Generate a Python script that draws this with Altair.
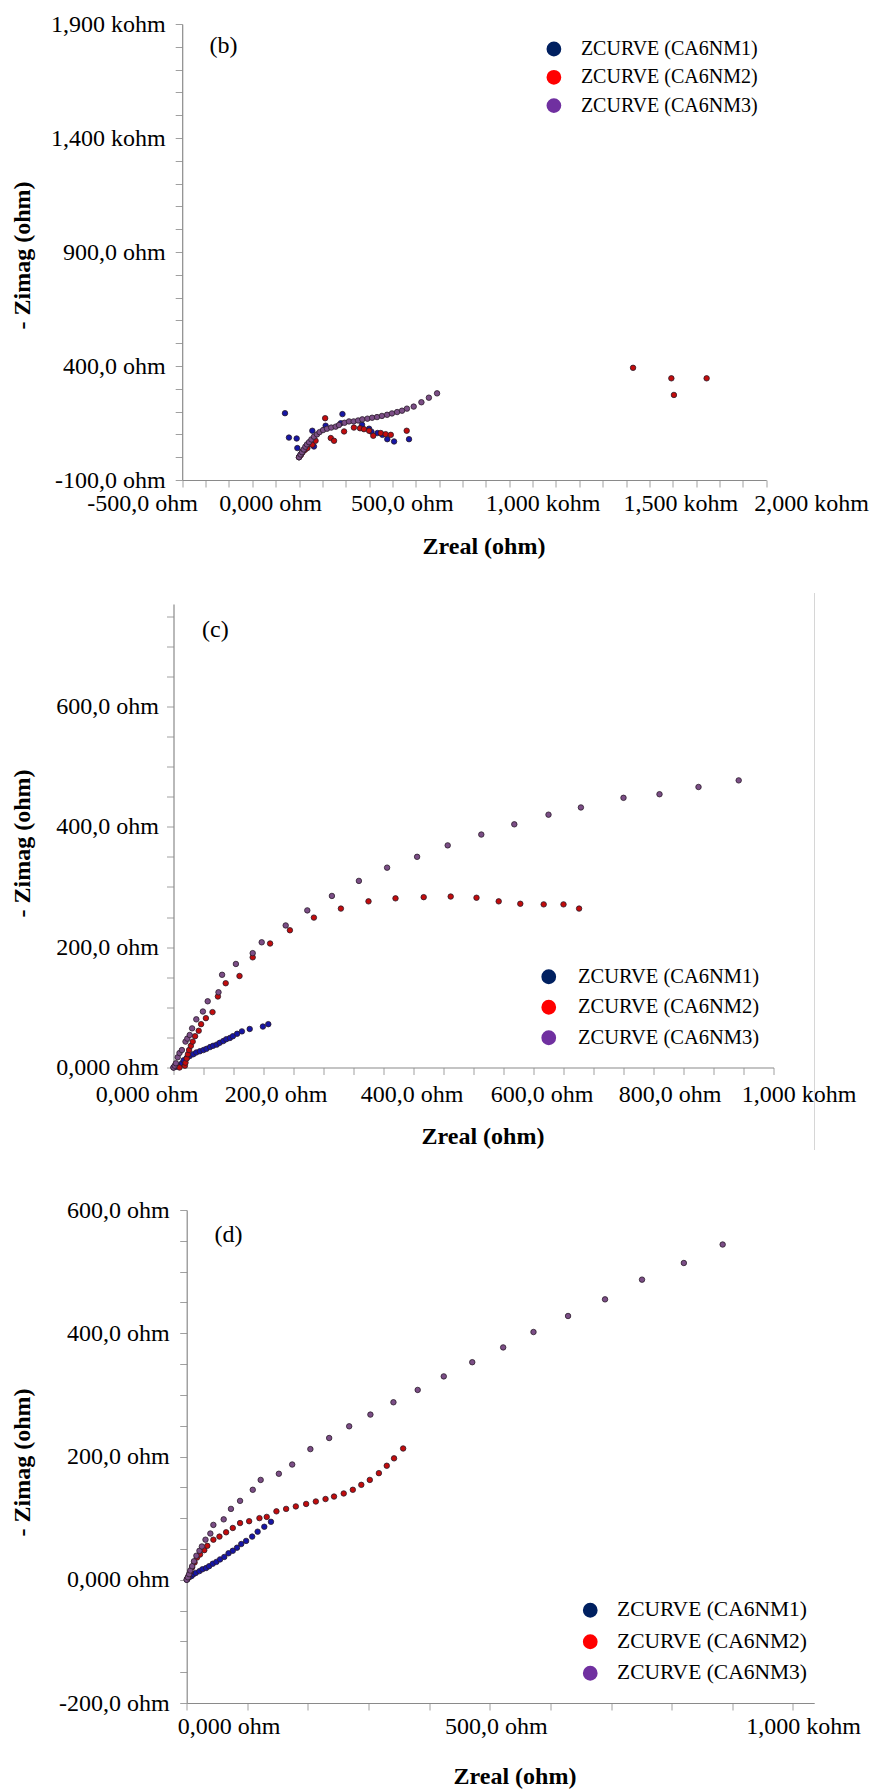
import altair as alt
import pandas as pd

SERIES = ["ZCURVE (CA6NM1)", "ZCURVE (CA6NM2)", "ZCURVE (CA6NM3)"]
POINT_COLORS = ["#1616a6", "#c20c0c", "#7b4e86"]
LEGEND_COLORS = ["#002060", "#ff0000", "#7030a0"]
FONT = "Liberation Serif, Times New Roman, serif"

# ---------------- panel (b) data (ohm) ----------------
b1_x = [-60, -43, -10, -7, 0, 6, 15, 57, 64, 114, 179, 186, 270, 300, 310, 336, 357, 378, 407, 471]
b1_y = [193, 86, 82, 40, 0, 10, 25, 116, 47, 138, 149, 189, 142, 125, 112, 106, 98, 79, 69, 79]
b2_x = [0, 8, 15, 25, 36, 57, 71, 112, 136, 150, 193, 235, 261, 278, 300, 318, 350, 371, 393, 461,
        1430, 1594, 1745, 1605]
b2_y = [0, 10, 21, 32, 40, 55, 72, 171, 84, 72, 113, 130, 127, 123, 116, 94, 106, 101, 98, 116,
        392, 346, 346, 273]
b3_x = [0, 7, 13, 20, 27, 34, 43, 53, 64, 77, 88, 103, 120, 138, 157, 171, 195, 214, 234, 253, 271,
        293, 313, 334, 355, 377, 398, 420, 441, 462, 491, 524, 556, 591]
b3_y = [0, 12, 22, 34, 46, 56, 66, 78, 90, 100, 110, 119, 125, 130, 134, 141, 151, 157, 157, 161, 166,
        169, 173, 176, 181, 186, 192, 198, 204, 213, 222, 241, 261, 280]

# ---------------- panel (c) data (ohm) ----------------
c1_x = [0, 3, 6, 9, 14, 17, 22, 27, 33, 38, 44, 50, 55, 61, 66, 72, 77, 83, 88, 94, 99, 106, 114, 127, 149, 158]
c1_y = [0, 1, 2, 3, 7, 12, 16, 19, 22, 25, 27, 29, 31, 34, 36, 38, 41, 44, 47, 49, 52, 56, 60, 64, 68, 72]
c2_x = [10, 19, 20, 22, 24, 26, 29, 32, 36, 42, 46, 54, 65, 74, 87, 110, 132, 161, 194, 234, 279, 325,
        370, 417, 462, 505, 542, 578, 617, 650, 676]
c2_y = [0, 3, 8, 15, 22, 29, 36, 43, 52, 61, 72, 82, 92, 118, 140, 152, 183, 206, 228, 249, 264, 276,
        281, 283, 284, 282, 276, 272, 271, 271, 264]
c3_x = [0, 2, 4, 7, 10, 14, 20, 23, 27, 31, 38, 49, 57, 75, 81, 104, 132, 147, 187, 223, 264, 309,
        356, 406, 457, 513, 568, 625, 679, 750, 810, 875, 942]
c3_y = [0, 3, 7, 17, 24, 29, 43, 48, 54, 65, 80, 93, 110, 125, 154, 172, 190, 208, 236, 261, 285, 310,
        332, 350, 369, 387, 404, 420, 432, 448, 454, 466, 477]

# ---------------- panel (d) data (ohm) ----------------
d1_x = [0, 1, 4, 8, 11, 15, 21, 26, 32, 37, 43, 49, 55, 62, 69, 76, 83, 90, 98, 108, 117, 128, 139]
d1_y = [0, 1, 4, 6, 9, 11, 14, 17, 19, 22, 26, 29, 33, 37, 43, 47, 52, 58, 63, 70, 78, 86, 94]
d2_x = [1, 3, 6, 9, 13, 17, 22, 29, 34, 44, 54, 65, 76, 88, 103, 120, 132, 148, 164, 180, 197, 213,
        229, 243, 259, 274, 288, 302, 317, 330, 342, 357]
d2_y = [2, 6, 13, 20, 28, 36, 41, 48, 55, 65, 70, 77, 84, 92, 95, 100, 102, 111, 115, 119, 123, 127,
        131, 135, 140, 146, 154, 162, 173, 185, 197, 213]
d3_x = [0, 2, 4, 6, 9, 12, 16, 21, 25, 31, 39, 44, 61, 73, 88, 109, 122, 152, 174, 204, 235, 268, 303,
        341, 381, 424, 471, 522, 572, 629, 690, 751, 820, 884]
d3_y = [0, 4, 9, 15, 22, 30, 39, 47, 54, 65, 75, 89, 98, 115, 128, 146, 162, 172, 187, 212, 230, 249,
        268, 288, 308, 330, 353, 377, 402, 428, 455, 487, 514, 544]

# ---------------- axis ticks / labels ----------------
b_x_major = [-500, 0, 500, 1000, 1500, 2000]
b_x_labels = ["-500,0 ohm", "0,000 ohm", "500,0 ohm", "1,000 kohm", "1,500 kohm", "2,000 kohm"]
b_y_major = [-100, 400, 900, 1400, 1900]
b_y_labels = ["-100,0 ohm", "400,0 ohm", "900,0 ohm", "1,400 kohm", "1,900 kohm"]

c_x_major = [0, 200, 400, 600, 800, 1000]
c_x_labels = ["0,000 ohm", "200,0 ohm", "400,0 ohm", "600,0 ohm", "800,0 ohm", "1,000 kohm"]
c_y_major = [0, 200, 400, 600]
c_y_labels = ["0,000 ohm", "200,0 ohm", "400,0 ohm", "600,0 ohm"]

d_x_major = [0, 500, 1000]
d_x_labels = ["0,000 ohm", "500,0 ohm", "1,000 kohm"]
d_y_major = [-200, 0, 200, 400, 600]
d_y_labels = ["-200,0 ohm", "0,000 ohm", "200,0 ohm", "400,0 ohm", "600,0 ohm"]


def make_df(xs_list, ys_list):
    rows = []
    for name, xs, ys in zip(SERIES, xs_list, ys_list):
        for x, y in zip(xs, ys):
            rows.append({"series": name, "entry": name, "zreal": x, "zimag": y})
    return pd.DataFrame(rows)


def label_expr(vals, labels):
    parts = [f"datum.value == {v} ? '{t}'" for v, t in zip(vals, labels)]
    return " : ".join(parts) + " : ''"


def offset_expr(vals, offs):
    parts = [f"datum.value == {v} ? {o}" for v, o in zip(vals, offs)]
    return " : ".join(parts) + " : 0"


def panel(df, p):
    x_axis = alt.Axis(
        values=p["xticks"], labelExpr=label_expr(p["xmaj"], p["xlab"]),
        labelOffset={"expr": offset_expr(p["xmaj"], p["xoff"])},
        labelFlush=False, labelOverlap=False, labelPadding=p["xpad"],
        labelFont=FONT, titleFont=FONT,
        title="Zreal (ohm)", titleX=p["xtx"], titleY=p["xty"],
        titleBaseline="alphabetic", titleAnchor="middle",
    )
    y_axis = alt.Axis(
        values=p["yticks"], labelExpr=label_expr(p["ymaj"], p["ylab"]),
        labelOverlap=False, labelPadding=p["ypad"], labelBaseline="middle",
        labelFont=FONT, titleFont=FONT,
        offset=p["yoff"], title="- Zimag (ohm)", titleX=p["ytx"], titleY=p["yty"],
        titleAngle=270, titleBaseline="alphabetic", titleAnchor="middle",
    )
    xs = alt.Scale(domain=p["xdom"], range=p["xrange"], nice=False, zero=False)
    ys = alt.Scale(domain=p["ydom"], range=p["yrange"], nice=False, zero=False)
    xenc = alt.X("zreal:Q", scale=xs, axis=x_axis)
    yenc = alt.Y("zimag:Q", scale=ys, axis=y_axis)
    # legend carrier: identical points, smaller, fully hidden under the visible points
    carrier = alt.Chart(df).mark_circle(size=14, opacity=1).encode(
        x=xenc, y=yenc,
        color=alt.Color(
            "entry:N", scale=alt.Scale(domain=SERIES, range=LEGEND_COLORS),
            legend=alt.Legend(
                orient="none", legendX=p["lx"], legendY=p["ly"], title=None,
                symbolType="circle", symbolSize=218, symbolStrokeWidth=0, symbolOpacity=1,
                labelFont=FONT, labelFontSize=p["lfs"], labelColor="black",
                labelOffset=p["loff"], rowPadding=p["lrow"], padding=0, labelLimit=400,
            ),
        ),
    )
    pts = alt.Chart(df).mark_circle(size=30, opacity=1, stroke="#2a1a2a", strokeWidth=0.8).encode(
        x=xenc, y=yenc,
        fill=alt.Fill("series:N", scale=alt.Scale(domain=SERIES, range=POINT_COLORS), legend=None),
    )
    tag = alt.Chart(pd.DataFrame({"tag": [p["tag"]]})).mark_text(
        font=FONT, fontSize=24, color="black", align="left", baseline="alphabetic"
    ).encode(text="tag:N", x=alt.value(p["tagx"]), y=alt.value(p["tagy"]))
    layers = [carrier, pts, tag]
    if p.get("border"):
        frame = alt.Chart(pd.DataFrame({"k": [0]})).mark_rule(color="#d6d6d6", strokeWidth=1).encode(
            x=alt.value(p["border"][0]), y=alt.value(p["border"][1]), y2=alt.value(p["border"][2])
        )
        layers.append(frame)
    return alt.layer(*layers).properties(width=p["w"], height=p["h"])


df_b = make_df([b1_x, b2_x, b3_x], [b1_y, b2_y, b3_y])
df_c = make_df([c1_x, c2_x, c3_x], [c1_y, c2_y, c3_y])
df_d = make_df([d1_x, d2_x, d3_x], [d1_y, d2_y, d3_y])

pb = panel(df_b, dict(
    xticks=list(range(-500, 2001, 100)), xmaj=b_x_major, xlab=b_x_labels,
    xoff=[-40, -29, -14, 10, 31, 45], xpad=4, xtx=310, xty=73,
    yticks=list(range(-100, 1901, 100)), ymaj=b_y_major, ylab=b_y_labels,
    ypad=10, yoff=-8.7, ytx=-152.5, yty=231,
    xdom=[-500, 2000], xrange=[8.7, 592.7], ydom=[-100, 1900], yrange=[456, 0],
    w=593, h=456, lx=370.4, ly=15, lfs=20, lrow=8.3, loff=17,
    tag="(b)", tagx=36, tagy=29,
))
pc = panel(df_c, dict(
    xticks=list(range(0, 1001, 50)), xmaj=c_x_major, xlab=c_x_labels,
    xoff=[-27, -18, -2, 8, 16, 25], xpad=8, xtx=309, xty=75.5,
    yticks=list(range(0, 751, 50)), ymaj=c_y_major, ylab=c_y_labels,
    ypad=8, yoff=0, ytx=-143.8, yty=220.5,
    xdom=[0, 1000], xrange=[0, 600], ydom=[0, 770], yrange=[445, -18.5],
    w=600, h=445, lx=365, ly=344, lfs=20.5, lrow=9.5, loff=19,
    tag="(c)", tagx=28.5, tagy=14,
    border=(641, -29.5, 527.5),
))
pd_ = panel(df_d, dict(
    xticks=list(range(0, 1001, 100)), xmaj=d_x_major, xlab=d_x_labels,
    xoff=[42, 6, 10], xpad=4, xtx=341, xty=80.7,
    yticks=list(range(-200, 601, 50)), ymaj=d_y_major, ylab=d_y_labels,
    ypad=10.5, yoff=-13.2, ytx=-157, yty=252,
    xdom=[0, 1035], xrange=[13.2, 640.7], ydom=[-200, 600], yrange=[493, 0],
    w=641, h=493, lx=406, ly=389.5, lfs=21.5, lrow=8.5, loff=16,
    tag="(d)", tagx=41, tagy=32,
))

chart = alt.vconcat(pb, pc, pd_, spacing=142.5, bounds="flush").resolve_scale(
    color="independent", fill="independent"
).resolve_legend(color="independent", fill="independent").properties(
    padding={"left": 10.5, "top": 12, "right": 0, "bottom": 0},
    background="white",
).configure_axis(
    grid=False, domainColor="#8a8a8a", domainWidth=1.2, tickColor="#a0a0a0", tickSize=7,
    labelFont=FONT, labelFontSize=24, labelColor="black",
    titleFont=FONT, titleFontSize=24, titleFontWeight="bold", titleColor="black",
).configure_view(strokeWidth=0, stroke="transparent")

chart.save("out.html", embed_options={"renderer": "svg", "actions": False})
